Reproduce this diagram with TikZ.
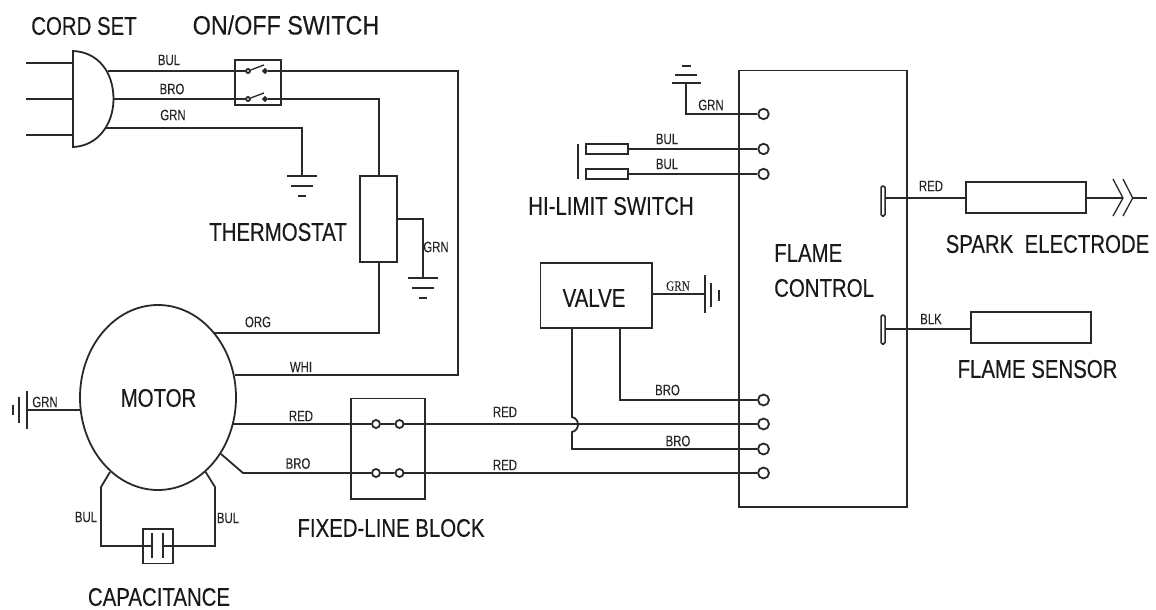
\documentclass[tikz,border=0pt]{standalone}
\usepackage{fontspec}
\usetikzlibrary{shapes.geometric}
\newfontfamily\lab[FakeStretch=0.8,FakeBold=0.25]{Liberation Sans}
\newfontfamily\labwide[FakeStretch=0.88,FakeBold=0.25]{Liberation Sans}
\newfontfamily\labsm[FakeStretch=0.76,FakeBold=0.15]{Liberation Sans}
\newfontfamily\labser[FakeStretch=0.8,FakeBold=0.15]{Liberation Serif}
\definecolor{ink}{gray}{0.16}
\tikzset{
  wire/.style={draw=ink,line width=1.8pt},
  bx/.style={draw=ink,line width=1.8pt,rectangle,inner sep=0pt,minimum width=#1},
  term/.style={draw=ink,line width=1.8pt,circle,inner sep=0pt,minimum size=#1,fill=white},
  big/.style={text=black!90,inner sep=0pt,font=\lab\fontsize{25.5}{28}\selectfont},
  small/.style={text=black!85,inner sep=0pt,font=\labsm\fontsize{15}{17}\selectfont},
  plate/.style={draw=ink,line width=1.5pt,rounded corners=1.5pt,rectangle,inner sep=0pt,minimum width=4pt,fill=white},
}
\begin{document}
\begin{tikzpicture}[x=1pt,y=-1pt]
\useasboundingbox (0,0) rectangle (1156,610);
% cord set
\coordinate (pT) at (73,51); \coordinate (pB) at (73,147); \coordinate (pR) at (113.5,99);
\draw[wire] (pT) .. controls (98,52) and (113.5,72) .. (pR) .. controls (113.5,124) and (98,146) .. (pB) -- cycle;
\coordinate (pa1) at (26,63); \coordinate (pa2) at (26,99); \coordinate (pa3) at (26,135);
\coordinate (pb1) at (73,63); \coordinate (pb2) at (73,99); \coordinate (pb3) at (73,135);
\draw[wire] (pa1)--(pb1) (pa2)--(pb2) (pa3)--(pb3);
% switch
\node[bx=46pt,minimum height=45pt] (sw) at (258,82.5) {};
\coordinate (plugBul) at (108,71); \coordinate (plugGrn) at (105,128);
\node[term=4pt] (s1a) at (248,71) {}; \node[term=3.5pt,fill=ink] (s1b) at (265,71) {};
\node[term=4pt] (s2a) at (248,99) {}; \node[term=3.5pt,fill=ink] (s2b) at (265,99) {};
\draw[wire,line width=1.3pt] (s1a)--(264,65) (s2a)--(264,93);
\draw[wire] (plugBul)--(s1a) (pR)--(s2a);
% thermostat
\node[bx=37pt,minimum height=86pt] (th) at (378.5,219) {};
\coordinate (c1) at (379,99);
\draw[wire] (s2b)--(c1)--(c1|-th.north);
% main BUL to motor WHI
\node[draw=ink,line width=1.8pt,ellipse,inner sep=0pt,minimum width=156pt,minimum height=185pt] (motor) at (158,397.5) {};
\coordinate (c2) at (458,71); \coordinate (c3) at (458,375); \coordinate (mW) at (235,375);
\draw[wire] (s1b)--(c2)--(c3)--(mW);
% ORG
\coordinate (c4) at (379,333); \coordinate (mO) at (213,333);
\draw[wire] (c4|-th.south)--(c4)--(mO);
% ground cord
\coordinate (g1) at (302,128); \coordinate (g1b) at (302,176);
\draw[wire] (plugGrn)--(g1)--(g1b);
\draw[wire] (287,176)--(317,176) (291,186)--(313,186) (298,196)--(306,196);
% ground thermostat
\coordinate (g2a) at (th.east|-0,219); \coordinate (g2) at (423,219); \coordinate (g2b) at (423,278);
\draw[wire] (g2a)--(g2)--(g2b);
\draw[wire] (408,278)--(438,278) (412,288)--(434,288) (419,298)--(427,298);
% motor ground
\coordinate (mG) at (80,410); \coordinate (g3) at (27,410);
\draw[wire] (mG)--(g3);
\draw[wire] (27,391)--(27,429) (19,397)--(19,423) (13,405)--(13,415);
% fixed block
\node[bx=74pt,minimum height=100.5pt] (fb) at (388,448.75) {};
\node[term=8pt] (f1) at (376,424) {}; \node[term=8pt] (f2) at (399.5,424) {};
\node[term=8pt] (f3) at (376,473) {}; \node[term=8pt] (f4) at (399.5,473) {};
\coordinate (mR) at (232,424); \coordinate (mB) at (221,454); \coordinate (mB2) at (243,473);
\draw[wire] (mR)--(f1) (mB)--(mB2)--(f3) (f1)--(f2) (f3)--(f4);
% capacitor
\node[bx=30pt,minimum height=34.5pt] (cap) at (158,546.25) {};
\coordinate (p1) at (152,546); \coordinate (p2) at (163,546);
\draw[wire] (152,533)--(152,558) (163,533)--(163,558);
\coordinate (mC1) at (110,472); \coordinate (cL1) at (101,487); \coordinate (cL2) at (101,546);
\coordinate (mC2) at (205,471); \coordinate (cR1) at (215,487); \coordinate (cR2) at (215,546);
\draw[wire] (mC1)--(cL1)--(cL2)--(p1) (mC2)--(cR1)--(cR2)--(p2);
% flame control
\node[bx=168pt,minimum height=436.5pt] (fc) at (823,288.75) {};
\node[term=10.5pt] (t1) at (763.5,114) {}; \node[term=10.5pt] (t2) at (763.5,149) {}; \node[term=10.5pt] (t3) at (763.5,174) {};
\node[term=11pt] (t4) at (763.5,400) {}; \node[term=11pt] (t5) at (763.5,424) {}; \node[term=11pt] (t6) at (763.5,449) {}; \node[term=11pt] (t7) at (763.5,473) {};
% top ground
\coordinate (g4) at (686,83); \coordinate (g4b) at (686,114);
\draw[wire] (g4)--(g4b)--(t1);
\draw[wire] (672,83)--(701,83) (675,75)--(697,75) (682,66)--(691,66);
% hi-limit
\node[bx=42pt,minimum height=10pt] (h1) at (607,149) {};
\node[bx=42pt,minimum height=10pt] (h2) at (607,174) {};
\draw[wire] (h1)--(t2) (h2)--(t3);
\draw[wire] (578,144)--(578,179);
% valve
\node[bx=111.5pt,minimum height=65pt] (valve) at (596.25,295.5) {};
\coordinate (vA) at (572,328); \coordinate (vA1) at (572,417); \coordinate (vA2) at (572,432); \coordinate (vA3) at (572,449);
\coordinate (vB) at (620,328); \coordinate (vB1) at (620,400);
\draw[wire] (vA)--(vA1) .. controls (580,419) and (580,430) .. (vA2)--(vA3)--(t6);
\draw[wire] (vB)--(vB1)--(t4);
\draw[wire] (f2)--(t5) (f4)--(t7);
\coordinate (vG) at (705,294);
\draw[wire] (valve.east|-vG)--(vG);
\draw[wire] (705,275)--(705,313) (711,283)--(711,307) (719,290)--(719,301);
% spark
\node[plate,minimum height=30pt] (pl1) at (883,201) {};
\node[bx=120pt,minimum height=31pt] (spark) at (1025.7,197.2) {};
\coordinate (ch1) at (1123,198);
\draw[wire] (pl1.east|-0,198)--(spark.west|-0,198);
\draw[wire] (spark.east|-ch1)--(ch1);
\draw[wire,line width=1.3pt] (1113,179)--(ch1)--(1113,216);
\coordinate (ch2) at (1132.7,198); \coordinate (chE) at (1147,198);
\draw[wire,line width=1.3pt] (1123,179)--(ch2)--(1123,216);
\draw[wire] (ch2)--(chE);
% sensor
\node[plate,minimum height=29pt] (pl2) at (883,329.5) {};
\node[bx=119.7pt,minimum height=31pt] (sensor) at (1030.85,327.2) {};
\draw[wire] (pl2.east|-0,329)--(sensor.west|-0,329);
% big labels
\node[big] (l1) at (84,26) {CORD SET};
\node[big,font=\labwide\fontsize{26.5}{28}\selectfont] (l2) at (286,25) {ON/OFF SWITCH};
\node[big] (l3) at (278,232) {THERMOSTAT};
\node[big] (l4) at (611,206) {HI-LIMIT SWITCH};
\node[big] (l5) at (158.5,398) {MOTOR};
\node[big] (l6) at (391,528) {FIXED-LINE BLOCK};
\node[big] (l7) at (159,597) {CAPACITANCE};
\node[big] (l8) at (594,298) {VALVE};
\node[big,anchor=west] (l9) at (774,253) {FLAME};
\node[big,anchor=west] (l10) at (774,288) {CONTROL};
\node[big] (l11) at (1047.5,244) {SPARK\ \ ELECTRODE};
\node[big] (l12) at (1037.5,369) {FLAME SENSOR};
% small labels
\node[small] (a1) at (169,60) {BUL};
\node[small] (a2) at (172,89) {BRO};
\node[small] (a3) at (173,115) {GRN};
\node[small] (a4) at (436,247) {GRN};
\node[small] (a5) at (258,322) {ORG};
\node[small] (a6) at (301,367) {WHI};
\node[small] (a7) at (301,416) {RED};
\node[small] (a8) at (298,463.5) {BRO};
\node[small] (a9) at (45,402) {GRN};
\node[small] (a10) at (86,517) {BUL};
\node[small] (a11) at (228,518) {BUL};
\node[small] (a12) at (505,412) {RED};
\node[small] (a13) at (505,465) {RED};
\node[small] (a14) at (667.5,390) {BRO};
\node[small] (a15) at (678,441) {BRO};
\node[small,font=\labser\fontsize{14}{16}\selectfont] (a16) at (678,286) {GRN};
\node[small] (a17) at (711,105) {GRN};
\node[small] (a18) at (667,139) {BUL};
\node[small] (a19) at (667,164) {BUL};
\node[small] (a20) at (931,186) {RED};
\node[small] (a21) at (931,319) {BLK};
\end{tikzpicture}
\end{document}
